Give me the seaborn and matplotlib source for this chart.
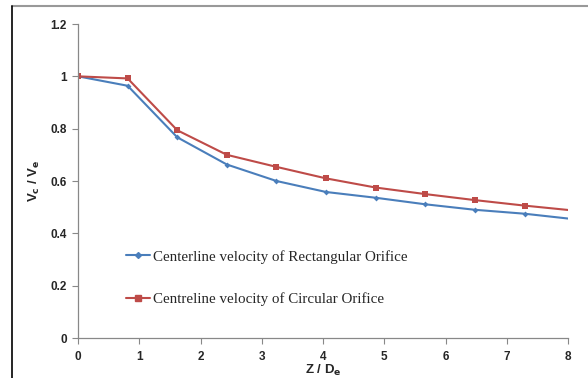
import numpy as np
import pandas as pd
import matplotlib.pyplot as plt
import seaborn as sns
from matplotlib.lines import Line2D

# Data
z_de = [0.0, 0.81, 1.62, 2.43, 3.24, 4.05, 4.86, 5.67, 6.48, 7.29, 8.1]
v_rect = [1.0, 0.964, 0.767, 0.663, 0.600, 0.558, 0.536, 0.511, 0.490, 0.475, 0.454]
v_circ = [1.0, 0.992, 0.794, 0.700, 0.654, 0.610, 0.575, 0.550, 0.527, 0.506, 0.487]
labels = ["Centerline velocity of Rectangular Orifice",
          "Centreline velocity of Circular Orifice"]

df = pd.DataFrame({
    "z": z_de * 2,
    "v": v_rect + v_circ,
    "series": [labels[0]] * len(z_de) + [labels[1]] * len(z_de),
})

sns.set_theme(style="white")
plt.rcParams['font.family'] = ['Liberation Sans', 'DejaVu Sans']

fig = plt.figure(figsize=(5.88, 3.78), dpi=100)
ax = fig.add_axes([0.1327, 0.1058, 0.8333, 0.8307])

palette = {labels[0]: "#4a7ebb", labels[1]: "#be4b48"}
sns.lineplot(data=df, x="z", y="v", hue="series", style="series",
             markers={labels[0]: "D", labels[1]: "s"}, dashes=False,
             palette=palette, linewidth=1.5, ax=ax, legend=False,
             markeredgewidth=0)
for line, ms in zip(ax.lines, [3, 4.5]):
    line.set_markersize(ms)

ax.set_xlim(0, 8)
ax.set_ylim(0, 1.2)
ax.set_xticks(range(0, 9))
ax.set_yticks([0, 0.2, 0.4, 0.6, 0.8, 1.0, 1.2])
ax.set_yticklabels(["0", "0.2", "0.4", "0.6", "0.8", "1", "1.2"])
for lab in ax.get_xticklabels() + ax.get_yticklabels():
    lab.set_fontweight("bold")
    lab.set_fontsize(8.5)
ax.tick_params(axis="both", direction="out", length=4, width=0.8,
               color="#888888", bottom=True, left=True)
ax.tick_params(axis="x", pad=5)
ax.tick_params(axis="y", pad=4)

for side in ["top", "right"]:
    ax.spines[side].set_visible(False)
for side in ["left", "bottom"]:
    ax.spines[side].set_color("#888888")
    ax.spines[side].set_linewidth(0.9)

ax.set_xlabel("Z / D$_\\mathbf{e}$", fontsize=9.5, fontweight="bold", labelpad=0)
ax.set_ylabel("V$_\\mathbf{c}$ / V$_\\mathbf{e}$", fontsize=9.5, fontweight="bold", labelpad=6)

handles = [Line2D([], [], color=palette[labels[0]], marker="D", markersize=3, lw=1.5),
           Line2D([], [], color=palette[labels[1]], marker="s", markersize=4.5, lw=1.5)]
ax.legend(handles, labels, loc="upper left", bbox_to_anchor=(0.085, 0.30),
          frameon=False, labelspacing=1.9, handlelength=1.65, handletextpad=0.2,
          borderaxespad=0.0, prop={"family": "Liberation Serif", "size": 10.8})

# outer frame lines
fig.add_artist(Line2D([12 / 588, 1], [1 - 5.5 / 378] * 2, color="#999999", lw=1.5))
fig.add_artist(Line2D([12 / 588] * 2, [0, 1 - 5.5 / 378], color="black", lw=1.2))

fig.savefig("out.png", dpi=100)
